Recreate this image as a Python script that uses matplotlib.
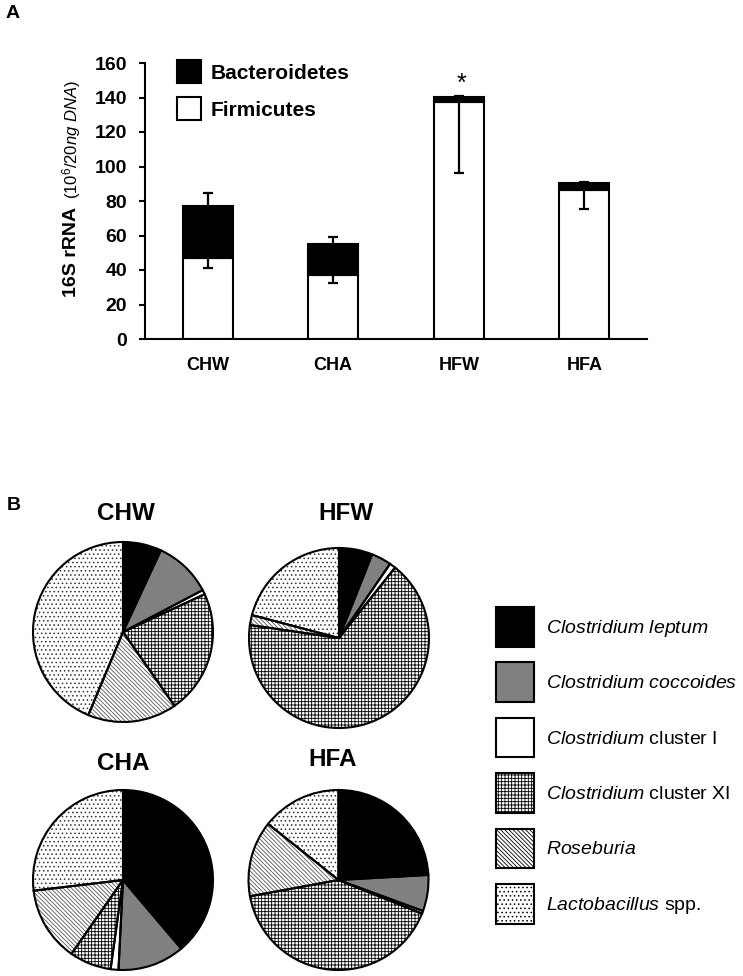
import numpy as np
import matplotlib
matplotlib.use("Agg")
import matplotlib.pyplot as plt
from matplotlib.patches import Patch

plt.rcParams["font.family"] = "Liberation Sans"
plt.rcParams["mathtext.fontset"] = "custom"
plt.rcParams["mathtext.rm"] = "Liberation Sans"
plt.rcParams["mathtext.it"] = "Liberation Sans:italic"
plt.rcParams["mathtext.bf"] = "Liberation Sans:bold"
plt.rcParams["hatch.linewidth"] = 0.6

# panel A data
groups = ["CHW", "CHA", "HFW", "HFA"]
firmicutes = [47, 37, 137.5, 86.5]
bacteroidetes = [30, 18, 3, 4]
firm_err = [6, 4.5, 41, 11]
bact_err = [7.5, 4.3, 0.5, 0.6]

# panel B data (% of total, clockwise from 12 o'clock)
taxa = [r"$\mathit{Clostridium\ leptum}$",
        r"$\mathit{Clostridium\ coccoides}$",
        r"$\mathit{Clostridium}$ cluster I",
        r"$\mathit{Clostridium}$ cluster XI",
        r"$\mathit{Roseburia}$",
        r"$\mathit{Lactobacillus}$ spp."]
pie_chw = [6.9, 10.4, 0.8, 22.2, 16.0, 43.7]
pie_hfw = [6.0, 3.6, 1.1, 66.6, 1.8, 20.9]
pie_cha = [38.8, 12.0, 1.4, 7.5, 13.4, 26.9]
pie_hfa = [24.1, 6.5, 0.5, 41.0, 13.6, 14.3]

face = ["black", "#808080", "white", "white", "white", "white"]
hatches = [None, None, None, "+++++", "\\" * 8, "...."]
hatch_col = ["black", "black", "black", "black", "#555555", "#333333"]

W, H = 743, 976
fig = plt.figure(figsize=(W / 100, H / 100), dpi=100)

# ---------- panel A ----------
ax = fig.add_axes([145 / W, 1 - 339 / H, 502 / W, 276 / H])
x = np.arange(len(groups))
firm = np.array(firmicutes)
bact = np.array(bacteroidetes)
total = firm + bact
b_firm = ax.bar(x, firm, width=0.4, color="white", edgecolor="black",
                linewidth=1.5, zorder=2)
b_bact = ax.bar(x, bact, bottom=firm, width=0.4, color="black",
                edgecolor="black", linewidth=1.5, zorder=2)
low = firm - np.array(firm_err)
ax.errorbar(x, total, yerr=[total - low, np.array(bact_err)], fmt="none",
            ecolor="black", elinewidth=1.6, capsize=3.5, capthick=1.6, zorder=3)
ax.text(x[2] + 0.02, total[2] + 7.5, "*", ha="center", va="center", fontsize=18)

ax.set_xlim(-0.5, 3.5)
ax.set_ylim(0, 160)
ax.set_yticks(np.arange(0, 161, 20))
ax.set_xticks(x)
ax.set_xticklabels(groups, fontsize=13, fontweight="bold")
for lbl in ax.get_yticklabels():
    lbl.set_fontweight("bold")
ax.tick_params(axis="y", labelsize=14, direction="out", length=4, width=1.5, pad=9)
ax.tick_params(axis="x", length=0, pad=13)
for s in ["top", "right"]:
    ax.spines[s].set_visible(False)
ax.spines["left"].set_linewidth(1.5)
ax.spines["bottom"].set_linewidth(1.5)

ax.legend([b_bact, b_firm], ["Bacteroidetes", "Firmicutes"],
          loc="upper left", bbox_to_anchor=(177 / W, 1 - 60 / H),
          bbox_transform=fig.transFigure, frameon=False, borderpad=0,
          borderaxespad=0, handlelength=1.17, handleheight=1.35,
          handletextpad=0.45, labelspacing=0.65,
          prop={"size": 15, "weight": "bold"})

fig.text(72 / W, 1 - 252 / H, "16S rRNA", rotation=90, ha="center",
         va="center", fontsize=14, fontweight="bold")
fig.text(72 / W, 1 - 140 / H, r"$\mathit{(10^{6}/20ng\ DNA)}$", rotation=90,
         ha="center", va="center", fontsize=12)
fig.text(13 / W, 1 - 13 / H, "A", ha="center", va="center", fontsize=14,
         fontweight="bold")

# ---------- panel B ----------
fig.text(14 / W, 1 - 505 / H, "B", ha="center", va="center", fontsize=14,
         fontweight="bold")

R = 90
PAD = 1.1


def draw_pie(vals, cx, cy, title, tx, ty):
    pa = fig.add_axes([(cx - R * PAD) / W, 1 - (cy + R * PAD) / H,
                       2 * R * PAD / W, 2 * R * PAD / H])
    wedges, _ = pa.pie(vals, colors=face, startangle=90, counterclock=False,
                       wedgeprops=dict(linewidth=0))
    for w, h, hc in zip(wedges, hatches, hatch_col):
        if h:
            w.set_hatch(h)
        w.set_edgecolor(hc)
        w.set_linewidth(0)
    pa.pie(vals, startangle=90, counterclock=False,
           wedgeprops=dict(fill=False, edgecolor="black", linewidth=1.5))
    pa.set_xlim(-PAD, PAD)
    pa.set_ylim(-PAD, PAD)
    pa.set_aspect("equal")
    pa.axis("off")
    fig.text(tx / W, 1 - ty / H, title, ha="center", va="center",
             fontsize=17.5, fontweight="bold")


draw_pie(pie_chw, 123, 632, "CHW", 126, 513)
draw_pie(pie_hfw, 339, 638, "HFW", 346, 513)
draw_pie(pie_cha, 123, 880, "CHA", 123, 764)
draw_pie(pie_hfa, 338.5, 880, "HFA", 333, 760)

handles = [Patch(facecolor=f, edgecolor="black", hatch=h, linewidth=1.5)
           for f, h in zip(face, hatches)]
fig.legend(handles, taxa, loc="upper left",
           bbox_to_anchor=(496 / W, 1 - 607 / H), frameon=False,
           borderpad=0, borderaxespad=0, handlelength=1.95, handleheight=2.75,
           handletextpad=0.62, labelspacing=0.82, prop={"size": 14})

fig.savefig("out.png", dpi=100)
